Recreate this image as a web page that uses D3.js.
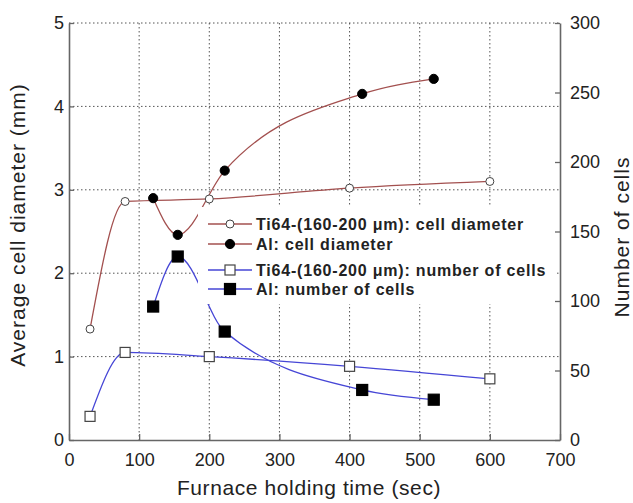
<!DOCTYPE html>
<html>
<head>
<meta charset="utf-8">
<script src="https://cdn.jsdelivr.net/npm/d3@7"></script>
<style>
body { margin: 0; background: #fff; }
text { font-family: "Liberation Sans", Arial, sans-serif; fill: #222; }
</style>
</head>
<body>
<script>
// furnace holding time (sec) for each sample
tiTimes = [30, 80, 200, 400, 600];
alTimes = [120, 155, 222, 418, 520];
// average cell diameter (mm), left axis
tiDiameter = [1.33, 2.86, 2.89, 3.02, 3.10];
alDiameter = [2.90, 2.46, 3.23, 4.15, 4.33];
// number of cells, right axis
tiCells = [17, 63, 60, 53, 44];
alCells = [96, 132, 78, 36, 29];

xTicks = [0, 100, 200, 300, 400, 500, 600, 700];
leftTicks = [0, 1, 2, 3, 4, 5];
rightTicks = [0, 50, 100, 150, 200, 250, 300];

legendDiameter = ["Ti64-(160-200 \u03bcm): cell diameter", "Al: cell diameter"];
legendCells = ["Ti64-(160-200 \u03bcm): number of cells", "Al: number of cells"];

svgWidth = 633;
svgHeight = 503;
redLine = "#a3504f";
blueLine = "#4646d6";

svg = d3.select('body').append('svg').attr('width', svgWidth).attr('height', svgHeight);

x = d3.scaleLinear().domain([0, 700]).range([69, 560]);
yLeft = d3.scaleLinear().domain([0, 5]).range([440, 23]);
yRight = d3.scaleLinear().domain([0, 300]).range([440, 23]);

// dotted grid
grid = svg.append('g').attr('stroke', '#555').attr('stroke-width', 1).attr('stroke-dasharray', '1.5,2.5');
grid.selectAll('line.v')
    .data(xTicks.filter(t => t > 0 && t < 700))
    .enter().append('line')
    .attr('x1', d => x(d)).attr('x2', d => x(d))
    .attr('y1', yLeft(5)).attr('y2', yLeft(0));
grid.selectAll('line.h')
    .data(leftTicks.filter(t => t > 0))
    .enter().append('line')
    .attr('x1', x(0)).attr('x2', x(700))
    .attr('y1', d => yLeft(d)).attr('y2', d => yLeft(d));

var curve = function(xs, ys, yScale) {
    return d3.line().curve(d3.curveMonotoneX)
        .x((d, i) => x(xs[i]))
        .y(d => yScale(d))(ys);
};

series = [
    {xs: tiTimes, ys: tiDiameter, scale: yLeft, color: redLine, shape: 'circle', filled: false},
    {xs: alTimes, ys: alDiameter, scale: yLeft, color: redLine, shape: 'circle', filled: true},
    {xs: tiTimes, ys: tiCells, scale: yRight, color: blueLine, shape: 'square', filled: false},
    {xs: alTimes, ys: alCells, scale: yRight, color: blueLine, shape: 'square', filled: true}
];

series.forEach(s => {
    svg.append('path')
        .attr('d', curve(s.xs, s.ys, s.scale))
        .attr('fill', 'none')
        .attr('stroke', s.color)
        .attr('stroke-width', 1.3);
});

var drawMarker = function(g, cx, cy, s) {
    if (s.shape == 'circle') {
        g.append('circle').attr('cx', cx).attr('cy', cy)
            .attr('r', s.filled ? 4.6 : 4)
            .attr('fill', s.filled ? '#000' : '#fff')
            .attr('stroke', s.filled ? '#000' : '#444').attr('stroke-width', 1);
    } else {
        var w = s.filled ? 11 : 10;
        g.append('rect').attr('x', cx - w / 2).attr('y', cy - w / 2)
            .attr('width', w).attr('height', w)
            .attr('fill', s.filled ? '#000' : '#fff')
            .attr('stroke', s.filled ? '#000' : '#444').attr('stroke-width', 1.2);
    }
};

markers = svg.append('g');
series.forEach(s => {
    s.ys.forEach((v, i) => drawMarker(markers, x(s.xs[i]), s.scale(v), s));
});

// legend box (white, no border), two stacked legends
svg.append('rect').attr('x', 198).attr('y', 207).attr('width', 357).attr('height', 97).attr('fill', '#fff');

legendRows = [
    {label: legendDiameter[0], y: 224, s: series[0]},
    {label: legendDiameter[1], y: 244, s: series[1]},
    {label: legendCells[0], y: 270, s: series[2]},
    {label: legendCells[1], y: 289, s: series[3]}
];
legend = svg.append('g');
legendRows.forEach(r => {
    legend.append('line').attr('x1', 208).attr('x2', 252).attr('y1', r.y).attr('y2', r.y)
        .attr('stroke', r.s.color).attr('stroke-width', 1.3);
    drawMarker(legend, 230, r.y, r.s);
    legend.append('text').attr('x', 256).attr('y', r.y + 6)
        .attr('font-size', 16).attr('font-weight', 'bold').attr('letter-spacing', 0.8)
        .text(r.label);
});

// axes
axisColor = '#666';
var styleAxis = function(g) {
    g.selectAll('.domain').attr('stroke', axisColor).attr('stroke-width', 1.6);
    g.selectAll('.tick line').attr('stroke', axisColor).attr('stroke-width', 1.3);
    g.selectAll('.tick text').attr('font-size', 18).attr('fill', '#222')
        .attr('font-family', '"Liberation Sans", Arial, sans-serif');
};

svg.append('g').attr('transform', 'translate(0,440)')
    .call(d3.axisBottom(x).tickValues(xTicks).tickSize(-6).tickSizeOuter(0).tickPadding(13))
    .call(styleAxis);
svg.append('g').attr('transform', 'translate(69,0)')
    .call(d3.axisLeft(yLeft).tickValues(leftTicks).tickSize(-5).tickSizeOuter(0).tickPadding(5).tickFormat(d3.format('d')))
    .call(styleAxis);
svg.append('g').attr('transform', 'translate(560,0)')
    .call(d3.axisRight(yRight).tickValues(rightTicks).tickSize(-5).tickSizeOuter(0).tickPadding(10))
    .call(styleAxis);

// axis titles
svg.append('text').attr('x', 309).attr('y', 495).attr('text-anchor', 'middle')
    .attr('font-size', 21).attr('letter-spacing', 0.6)
    .text('Furnace holding time (sec)');
svg.append('text').attr('transform', 'translate(25,225) rotate(-90)').attr('text-anchor', 'middle')
    .attr('font-size', 21).attr('letter-spacing', 1)
    .text('Average cell diameter (mm)');
svg.append('text').attr('transform', 'translate(629,237) rotate(-90)').attr('text-anchor', 'middle')
    .attr('font-size', 21).attr('letter-spacing', 1)
    .text('Number of cells');
</script>
</body>
</html>
